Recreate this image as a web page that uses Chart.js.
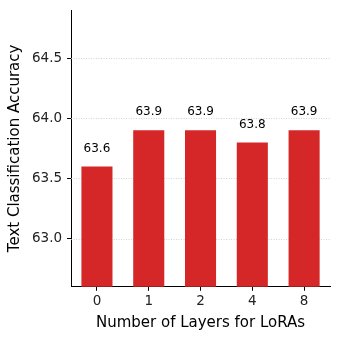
<!DOCTYPE html>
<html>
<head>
<meta charset="utf-8">
<script src="https://cdn.jsdelivr.net/npm/chart.js@4"></script>
<style>
  html, body { margin: 0; padding: 0; background: #fff; }
  #wrap { width: 340px; height: 340px; }
</style>
</head>
<body>
<div id="wrap"><canvas id="chart" width="340" height="340"></canvas></div>
<script>
// Data
const layers = ['0', '1', '2', '4', '8'];
const accuracy = [63.6, 63.9, 63.9, 63.8, 63.9];
const yTicks = [63.0, 63.5, 64.0, 64.5];

const FONT = 'DejaVu Sans';

// Dotted horizontal grid lines behind the bars
const dottedGrid = {
    id: 'dottedGrid',
    beforeDatasetsDraw(chart) {
        const { ctx, chartArea, scales } = chart;
        ctx.save();
        ctx.strokeStyle = '#c8c8c8';
        ctx.lineWidth = 0.8;
        ctx.setLineDash([1, 1.5]);
        yTicks.forEach(v => {
            const y = Math.round(scales.y.getPixelForValue(v)) + 0.5;
            ctx.beginPath();
            ctx.moveTo(chartArea.left, y);
            ctx.lineTo(chartArea.right, y);
            ctx.stroke();
        });
        ctx.restore();
    }
};

// Value labels above each bar
const barLabels = {
    id: 'barLabels',
    afterDatasetsDraw(chart) {
        const { ctx } = chart;
        const meta = chart.getDatasetMeta(0);
        ctx.save();
        ctx.fillStyle = '#000';
        ctx.font = '12px ' + FONT;
        ctx.textAlign = 'center';
        ctx.textBaseline = 'bottom';
        meta.data.forEach((bar, i) => {
            ctx.fillText(accuracy[i].toFixed(1), bar.x, bar.y - 12);
        });
        ctx.restore();
    }
};

new Chart(document.getElementById('chart'), {
    type: 'bar',
    data: {
        labels: layers,
        datasets: [{
            data: accuracy,
            backgroundColor: '#d62728',
            barPercentage: 0.6,
            categoryPercentage: 1.0
        }]
    },
    options: {
        responsive: false,
        animation: false,
        layout: { padding: { top: 10, right: 10, left: 6, bottom: 8 } },
        plugins: {
            legend: { display: false },
            tooltip: { enabled: false }
        },
        scales: {
            x: {
                offset: true,
                grid: { offset: false, drawOnChartArea: false, color: '#000', tickLength: 4, lineWidth: 1 },
                border: { color: '#000', width: 1 },
                ticks: { color: '#222', font: { family: FONT, size: 13.5 }, padding: 3 },
                title: { display: true, text: 'Number of Layers for LoRAs', color: '#000', font: { family: FONT, size: 15 }, padding: { top: 1, bottom: 0 } }
            },
            y: {
                min: 62.6,
                max: 64.9,
                afterBuildTicks(scale) {
                    scale.ticks = yTicks.map(v => ({ value: v }));
                },
                afterFit(scale) {
                    scale.paddingTop = 0;
                    scale.paddingBottom = 0;
                },
                grid: { drawOnChartArea: false, color: '#000', tickLength: 4, lineWidth: 1 },
                border: { color: '#000', width: 1 },
                ticks: {
                    color: '#222',
                    font: { family: FONT, size: 13.5 },
                    padding: 5,
                    callback: v => Number(v).toFixed(1)
                },
                title: { display: true, text: 'Text Classification Accuracy', color: '#000', font: { family: FONT, size: 15 }, padding: { top: 0, bottom: 3 } }
            }
        }
    },
    plugins: [dottedGrid, barLabels]
});
</script>
</body>
</html>
